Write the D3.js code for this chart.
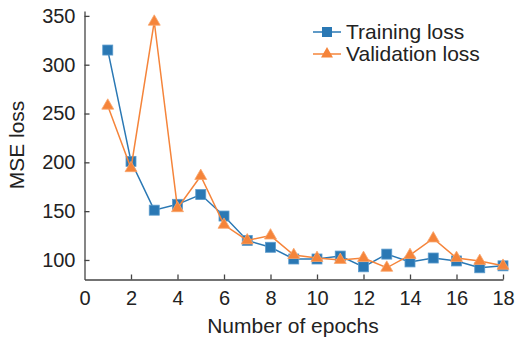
<!DOCTYPE html>
<html>
<head>
<meta charset="utf-8">
<script src="https://cdn.jsdelivr.net/npm/d3@7"></script>
<style>
  html, body { margin: 0; padding: 0; background: #fff; }
  svg { display: block; font-family: "Liberation Sans", Arial, sans-serif; }
</style>
</head>
<body>
<svg id="chart" width="515" height="341"></svg>
<script>
const epochs = [1,2,3,4,5,6,7,8,9,10,11,12,13,14,15,16,17,18];
const trainingLoss = [315,201,151,157,167,145,120,113,101,101,104,93,106,98,102,99,92,94];
const validationLoss = [258,194,344,153,186,136,120,125,105,102,100,102,92,105,122,102,99,94];
const xTicks = [0,2,4,6,8,10,12,14,16,18];
const yTicks = [100,150,200,250,300,350];
const seriesNames = ["Training loss", "Validation loss"];

const svg = d3.select("#chart");
const textColor = "#222";
const axisColor = "#444";
const blue = "#2a78b4";
const orange = "#f5843a";

const x = d3.scaleLinear().domain([0, 18]).range([84.5, 503]);
const y = d3.scaleLinear().domain([80, 355]).range([279.5, 11]);

// Axes
const xAxis = d3.axisBottom(x).tickValues(xTicks).tickSizeInner(-5).tickSizeOuter(0).tickPadding(11);
const yAxis = d3.axisLeft(y).tickValues(yTicks).tickSizeInner(-5).tickSizeOuter(0).tickPadding(9);

const gx = svg.append("g").attr("transform", `translate(0,${y.range()[0]})`).call(xAxis);
const gy = svg.append("g").attr("transform", `translate(${x.range()[0]},0)`).call(yAxis);

[gx, gy].forEach(g => {
  g.select(".domain").attr("stroke", axisColor).attr("stroke-width", 1.3);
  g.selectAll(".tick line").attr("stroke", axisColor).attr("stroke-width", 1.3);
  g.selectAll(".tick text").attr("fill", textColor).style("font-size", "20px")
    .style("font-family", "'Liberation Sans', Arial, sans-serif");
});
gx.selectAll(".tick").filter(d => d === 0).select("line").remove();

// Axis titles
svg.append("text")
  .attr("x", 293).attr("y", 333)
  .attr("text-anchor", "middle")
  .attr("fill", textColor)
  .style("font-size", "21px")
  .text("Number of epochs");

svg.append("text")
  .attr("transform", "translate(24,145) rotate(-90)")
  .attr("text-anchor", "middle")
  .attr("fill", textColor)
  .style("font-size", "21px")
  .text("MSE loss");

// Lines
const line = d3.line().x(d => x(d[0])).y(d => y(d[1]));
const trainData = epochs.map((e, i) => [e, trainingLoss[i]]);
const valData = epochs.map((e, i) => [e, validationLoss[i]]);

svg.append("path").datum(trainData)
  .attr("d", line).attr("fill", "none").attr("stroke", blue).attr("stroke-width", 1.5);

svg.selectAll(".sq").data(trainData).enter().append("rect")
  .attr("x", d => x(d[0]) - 5).attr("y", d => y(d[1]) - 5)
  .attr("width", 10).attr("height", 10)
  .attr("fill", blue).attr("stroke", "#5b9bcc").attr("stroke-width", 0.8);

svg.append("path").datum(valData)
  .attr("d", line).attr("fill", "none").attr("stroke", orange).attr("stroke-width", 1.5);

const tri = d3.symbol().type(d3.symbolTriangle).size(62);
svg.selectAll(".tri").data(valData).enter().append("path")
  .attr("d", tri)
  .attr("transform", d => `translate(${x(d[0])},${y(d[1])})`)
  .attr("fill", orange).attr("stroke", "#f9a46b").attr("stroke-width", 0.8);

// Legend
const legend = svg.append("g");
const legendItems = [
  { name: seriesNames[0], color: blue, marker: "square", yPos: 32 },
  { name: seriesNames[1], color: orange, marker: "triangle", yPos: 54 }
];
legendItems.forEach(item => {
  legend.append("line")
    .attr("x1", 313).attr("x2", 341)
    .attr("y1", item.yPos).attr("y2", item.yPos)
    .attr("stroke", item.color).attr("stroke-width", 1.5);
  if (item.marker === "square") {
    legend.append("rect")
      .attr("x", 327 - 5).attr("y", item.yPos - 5)
      .attr("width", 10).attr("height", 10)
      .attr("fill", item.color);
  } else {
    legend.append("path").attr("d", tri)
      .attr("transform", `translate(327,${item.yPos})`)
      .attr("fill", item.color);
  }
  legend.append("text")
    .attr("x", 346).attr("y", item.yPos + 7)
    .attr("fill", textColor)
    .style("font-size", "21px")
    .text(item.name);
});
</script>
</body>
</html>
